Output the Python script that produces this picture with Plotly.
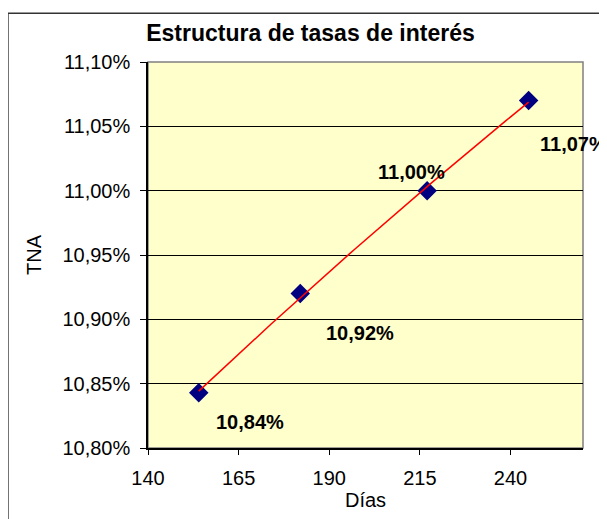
import numpy as np
import plotly.graph_objects as go

# Plazo en días y tasa nominal anual de cada punto
dias = [154, 182, 217, 245]
tna = [0.10843, 0.10920, 0.11000, 0.11070]

x_ticks = [140, 165, 190, 215, 240]
y_ticks = [0.1080, 0.1085, 0.1090, 0.1095, 0.1100, 0.1105, 0.1110]
y_tick_text = ["10,80%", "10,85%", "10,90%", "10,95%", "11,00%", "11,05%", "11,10%"]

# desplazamiento de cada etiqueta respecto de su punto (px)
label_offsets = [(51, -29), (60, -39), (-16, 19), (45, -43)]

FONT = "Liberation Sans, Arial, sans-serif"

# línea de tendencia polinómica (como la de Excel)
coef = np.polyfit(dias, tna, 2)
trend_x = np.linspace(min(dias), max(dias), 60)
trend_y = np.polyval(coef, trend_x)

fig = go.Figure()

fig.add_trace(
    go.Scatter(
        x=dias,
        y=tna,
        mode="markers",
        marker=dict(symbol="diamond", size=15, color="#000080"),
        showlegend=False,
    )
)
fig.add_trace(
    go.Scatter(
        x=trend_x,
        y=trend_y,
        mode="lines",
        line=dict(color="#FF0000", width=1.5),
        showlegend=False,
    )
)

for d, v, (dx, dy) in zip(dias, tna, label_offsets):
    fig.add_annotation(
        x=d,
        y=v,
        text=f"{v * 100:.2f}%".replace(".", ","),
        showarrow=False,
        xshift=dx,
        yshift=dy,
        font=dict(family=FONT, size=20, color="black", weight="bold"),
    )

# marco gris del área de trazado
fig.add_shape(
    type="rect", xref="paper", yref="paper", x0=0, x1=1, y0=0, y1=1,
    line=dict(color="#808080", width=1.5), layer="below",
)
# borde exterior del gráfico
fig.add_shape(
    type="rect", xref="paper", yref="paper", x0=-0.322, x1=1.3, y0=-0.3, y1=1.126,
    line=dict(color="#333333", width=1.5), layer="below",
)

# la página añade 8 px de margen, por eso el tamaño es 599x511
fig.update_layout(
    width=599,
    height=511,
    margin=dict(l=140, r=24, t=54, b=69),
    paper_bgcolor="white",
    plot_bgcolor="#FFFFCC",
    separators=",.",
    font=dict(family=FONT, size=20, color="black"),
    title=dict(
        text="Estructura de tasas de interés",
        x=0.505,
        xanchor="center",
        y=1 - 25 / 511,
        yanchor="middle",
        yref="container",
        font=dict(family=FONT, size=23, color="black", weight="bold"),
    ),
    xaxis=dict(
        range=[140, 260],
        tickvals=x_ticks,
        ticks="outside",
        ticklen=5,
        tickcolor="black",
        ticklabelstandoff=6,
        showgrid=False,
        zeroline=False,
        showline=True,
        linecolor="black",
        linewidth=1.5,
        title=dict(text="Días", standoff=4, font=dict(size=20)),
    ),
    yaxis=dict(
        range=[0.108, 0.111],
        tickvals=y_ticks,
        ticktext=y_tick_text,
        ticks="outside",
        ticklen=6,
        tickcolor="black",
        ticklabelstandoff=6,
        showgrid=True,
        gridcolor="black",
        gridwidth=1,
        zeroline=False,
        showline=True,
        linecolor="black",
        linewidth=1.5,
        title=dict(text="TNA", standoff=15, font=dict(size=20)),
    ),
)

fig.write_html("out.html")
